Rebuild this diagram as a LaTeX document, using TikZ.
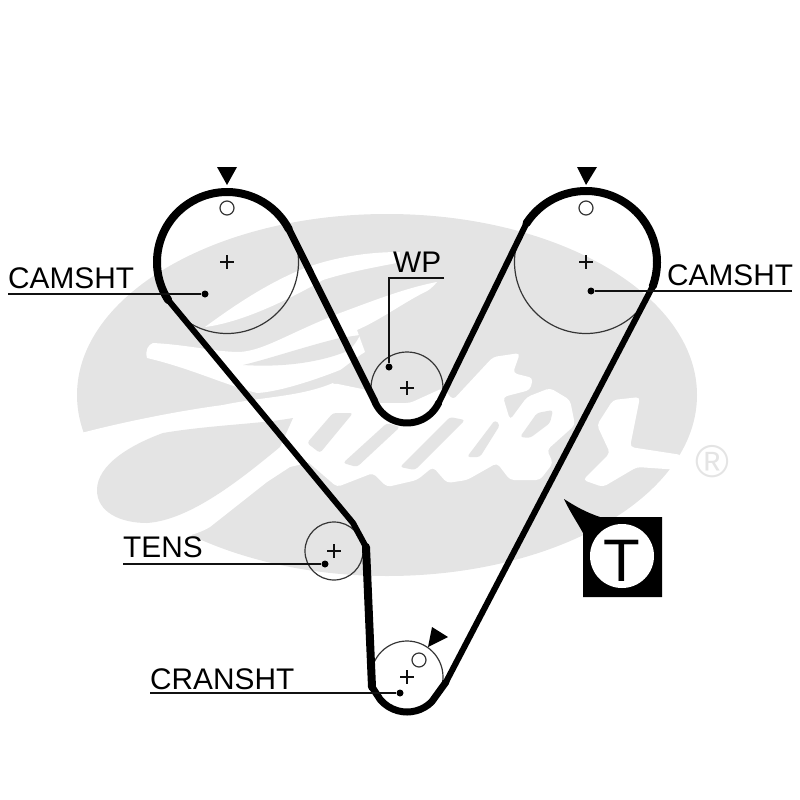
\documentclass[tikz,border=0pt]{standalone}
\usepackage{fontspec}
\setmainfont{Liberation Sans}
\usetikzlibrary{calc}
\definecolor{logogray}{HTML}{E4E4E4}
\definecolor{ink}{HTML}{111111}
\tikzset{
  logoG/.style={fill=logogray,draw=none},
  logoW/.style={fill=white,draw=none},
  pulley/.style={circle,draw=ink!85,line width=1.2pt,inner sep=0pt},
  beltwide/.style={line width=8pt,black,line cap=round,line join=round},
  beltmid/.style={line width=7pt,black,line cap=round,line join=round},
  beltthin/.style={line width=6pt,black,line cap=round,line join=round},
  lab/.style={anchor=base west,inner sep=0pt,text=black,font=\fontsize{29.8}{30}\selectfont},
  lead/.style={line width=1.6pt,ink},
  leaddot/.style={circle,fill=black,inner sep=0pt,minimum size=7pt},
  hole/.style={circle,draw=ink!85,line width=1.2pt,inner sep=0pt,minimum size=14pt},
  tipmark/.style={fill=black,draw=none},
  crossl/.style={line width=1.2pt,ink}
}
\newcommand{\crossat}[1]{\draw[crossl] ($(#1)+(-7,0)$) -- ($(#1)+(7,0)$);\draw[crossl] ($(#1)+(0,-7)$) -- ($(#1)+(0,7)$);}
\begin{document}
\begin{tikzpicture}[x=1pt,y=-1pt]
\useasboundingbox (0,0) rectangle (800,800);
% logo
\fill[logoG] (387,395) ellipse [x radius=310,y radius=181];
% white swashes of the G
\fill[logoW] (205,327) .. controls (235,305) and (265,285) .. (300,270) .. controls (330,258) and (365,252) .. (400,252) .. controls (400,256) and (400,260) .. (397,263) .. controls (370,268) and (345,273) .. (323,280) .. controls (295,296) and (245,322) .. cycle;
\fill[logoW] (153,343) .. controls (190,345) and (215,352) .. (240,352) .. controls (265,350) and (285,335) .. (340,313) .. controls (370,302) and (405,288) .. (437,282) .. controls (432,288) and (428,291) .. (423,293) .. controls (400,305) and (380,320) .. (357,330) -- (365,352) .. controls (355,358) and (345,367) .. (340,370) .. controls (320,378) and (280,392) .. (257,393) .. controls (225,385) and (190,368) .. (147,358) .. controls (145,350) and (148,345) .. cycle;
\fill[logoG] (243,365) .. controls (265,360) and (310,345) .. (340,338) -- (360,335) .. controls (355,345) and (350,350) .. (345,352) .. controls (325,360) and (290,368) .. cycle;
\fill[logoW] (70,436) .. controls (110,425) and (170,412) .. (223,405) .. controls (260,397) and (300,397) .. (333,383) -- (345,400) -- (320,460) -- (290,467) -- (267,482) -- (210,527) .. controls (180,545) and (120,545) .. (70,530) -- cycle;
\fill[logoG] (293,418) .. controls (260,424) and (210,425) .. (163,433) .. controls (130,445) and (97,465) .. (97,490) .. controls (97,512) and (120,523) .. (147,523) .. controls (190,520) and (240,480) .. (280,447) -- cycle;
% letters
\fill[logoW,rounded corners=4pt] (300,407) -- (333,383) -- (367,390) -- (373,403) -- (410,403) -- (443,388) -- (453,400) -- (493,357) -- (520,353) -- (513,373) -- (533,378) -- (530,390) -- (503,397) -- (510,420) -- (527,397) -- (550,388) -- (570,400) -- (575,425) -- (547,450) -- (553,463) -- (540,480) -- (510,480) -- (497,463) -- (467,480) -- (447,483) -- (433,467) -- (417,480) -- (387,487) -- (373,473) -- (337,487) -- (300,455) -- cycle;
\fill[logoW,rounded corners=4pt] (613,400) -- (640,397) -- (630,447) -- (682,455) -- (680,470) -- (637,467) -- (603,487) -- (583,480) -- (610,453) -- (597,425) -- cycle;
\fill[logoG,rounded corners=3pt] (307,443) -- (333,413) -- (353,413) -- (320,453) -- cycle;
\fill[logoG,rounded corners=3pt] (343,463) -- (387,423) -- (400,427) -- (357,467) -- cycle;
\fill[logoG,rounded corners=3pt] (400,467) -- (450,417) -- (465,420) -- (415,470) -- cycle;
\fill[logoG,rounded corners=3pt] (467,457) -- (495,420) -- (500,425) -- (480,457) -- cycle;
\fill[logoG,rounded corners=3pt] (520,437) -- (537,413) -- (553,410) -- (550,423) -- (530,438) -- cycle;
\node[inner sep=0pt,text=logogray,font=\fontsize{46}{46}\selectfont] (regmark) at (712,462) {®};
% pulleys
\node[pulley,minimum size=143pt] (camL) at (227,262) {};
\node[pulley,minimum size=143pt] (camR) at (586,262) {};
\node[pulley,minimum size=72pt] (wp) at (407,388) {};
\node[pulley,minimum size=58pt] (tens) at (334,551) {};
\node[pulley,minimum size=72pt] (crank) at (407,677) {};
\crossat{camL.center}\crossat{camR.center}\crossat{wp.center}\crossat{tens.center}\crossat{crank.center}
\node[hole] (holeL) at (227,208) {};
\node[hole] (holeR) at (586,208) {};
\node[hole] (holeC) at (419,660) {};
% belt
\coordinate (cL1) at ($(camL.center)+(147:70)$);
\coordinate (cL2) at ($(camL.center)+(332:70)$);
\coordinate (w1) at ($(wp.center)+(160:35)$);
\coordinate (w2) at ($(wp.center)+(25:35)$);
\coordinate (cR1) at ($(camR.center)+(213:71)$);
\coordinate (cR2) at ($(camR.center)+(380:71)$);
\coordinate (kR) at (446,682);
\coordinate (k1) at ($(crank.center)+(45:35)$);
\coordinate (k2) at ($(crank.center)+(140:35)$);
\coordinate (kL) at (372,687);
\coordinate (t1) at (366,547);
\coordinate (t2) at (353,523);
\draw[beltwide] (cL1) arc[start angle=147,end angle=332,radius=70];
\draw[beltmid] (cL2) -- (w1);
\draw[beltmid] (w1) arc[start angle=160,end angle=25,radius=35];
\draw[beltthin] (w2) -- (cR1);
\draw[beltwide] (cR1) arc[start angle=213,end angle=380,radius=71];
\draw[beltthin] (cR2) -- (kR);
\draw[beltmid] (kR) -- (k1) arc[start angle=45,end angle=140,radius=35] -- (kL);
\draw[beltwide] (kL) -- (t1);
\draw[beltthin] (t1) -- (t2) -- (cL1);
% timing marks
\fill[tipmark] (217,167) -- (237,167) -- (227,185) -- cycle;
\fill[tipmark] (577,167) -- (597,167) -- (586,185) -- cycle;
\fill[tipmark] (432,627) -- (448,637) -- (428,647) -- cycle;
% labels
\node[lab] (lCamL) at (8,288) {CAMSHT};
\node[lab] (lCamR) at (667,285) {CAMSHT};
\node[lab] (lWP) at (393,272) {WP};
\node[lab] (lTens) at (123,557) {TENS};
\node[lab] (lCrank) at (150,689) {CRANSHT};
\node[leaddot] (dCamL) at (205,294) {};
\node[leaddot] (dCamR) at (591,291) {};
\node[leaddot] (dWP) at (389,367) {};
\node[leaddot] (dTens) at (325,564) {};
\node[leaddot] (dCrank) at (400,693) {};
\coordinate (eCamL) at (8,294);
\coordinate (eCamR) at (792,291);
\coordinate (eWP) at (444,278);
\coordinate (bWP) at (389,278);
\coordinate (eTens) at (123,564);
\coordinate (eCrank) at (150,693);
\draw[lead] (eCamL) -- (dCamL);
\draw[lead] (eCamR) -- (dCamR);
\draw[lead] (eWP) -- (bWP) -- (dWP);
\draw[lead] (eTens) -- (dTens);
\draw[lead] (eCrank) -- (dCrank);
% tool badge
\fill[black] (583,517) -- (600,517) .. controls (585,512) and (575,506) .. (564,499) .. controls (570,512) and (577,522) .. (583,533) -- (583,597) -- (662,597) -- (662,517) -- cycle;
\node[circle,fill=white,inner sep=0pt,minimum size=64pt] (badge) at (622,556) {};
\node[inner sep=0pt,text=black,font=\fontsize{60}{60}\selectfont] (badgeT) at (622,561) {T};
\end{tikzpicture}
\end{document}
